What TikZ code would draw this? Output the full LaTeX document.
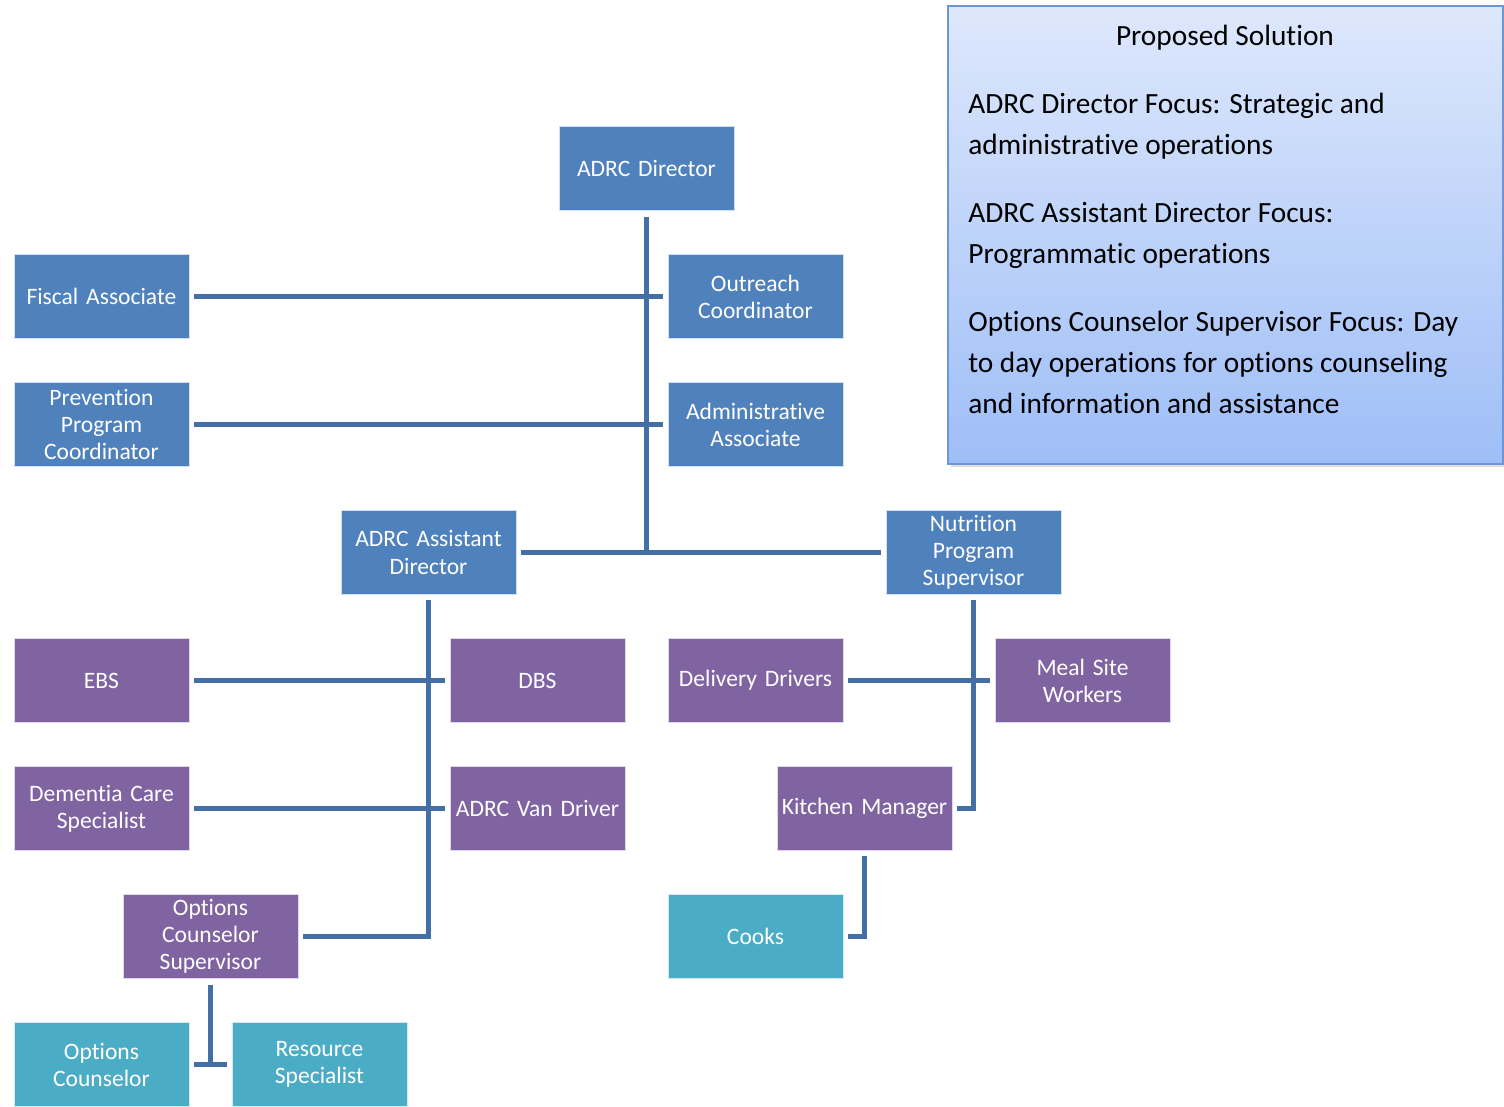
\documentclass[tikz,border=0pt]{standalone}
\usepackage{fontspec}
\setmainfont[Ligatures=NoCommon]{Carlito}
\usetikzlibrary{shadows}

\definecolor{adrcblue}{RGB}{79,129,189}
\definecolor{adrcpurple}{RGB}{128,100,162}
\definecolor{adrcteal}{RGB}{75,172,198}
\definecolor{linkblue}{RGB}{68,110,166}
\definecolor{paneltop}{RGB}{222,232,252}
\definecolor{panelbot}{RGB}{158,190,247}
\definecolor{panelline}{RGB}{110,150,215}

\begin{document}
\begin{tikzpicture}[
  x=0.02cm, y=-0.02cm,
  font=\fontsize{13.4}{15.4}\selectfont,
  box/.style={rectangle, fill=#1, draw=white!75!#1, line width=0.4pt, text=white,
              minimum width=3.5cm, minimum height=1.68cm, text width=3.4cm,
              align=center, inner sep=1pt},
  link/.style={draw=linkblue, line width=2.3pt},
  gap/.style={shorten <=0.1cm, shorten >=0.1cm},
  panel/.style={rectangle, draw=panelline, line width=0.8pt, top color=paneltop,
                bottom color=panelbot, minimum width=11.1cm, minimum height=9.16cm,
                drop shadow={opacity=0.25, shadow xshift=0.06cm, shadow yshift=-0.06cm}},
  paneltext/.style={font=\fontsize{16.7}{23.3}\selectfont, inner sep=0pt, align=left},
]
\useasboundingbox (0,0) rectangle (1504,1106);

% ================= NODES (pixel grid) =================
\node[box=adrcblue]   (dir)      at (646.5,168.5) {ADRC Director};
\node[box=adrcblue]   (fiscal)   at (101.5,296.5) {Fiscal Associate};
\node[box=adrcblue]   (outreach) at (755.5,296.5) {Outreach\\Coordinator};
\node[box=adrcblue]   (prevent)  at (101.5,424.5) {Prevention\\Program\\Coordinator};
\node[box=adrcblue]   (admin)    at (755.5,424.5) {Administrative\\Associate};
\node[box=adrcblue]   (asst)     at (428.5,552.5) {ADRC Assistant\\Director};
\node[box=adrcblue]   (nutr)     at (973.5,552.5) {Nutrition\\Program\\Supervisor};

\node[box=adrcpurple] (ebs)      at (101.5,680.5) {EBS};
\node[box=adrcpurple] (dbs)      at (537.5,680.5) {DBS};
\node[box=adrcpurple] (drivers)  at (755.5,680.5) {Delivery Drivers};
\node[box=adrcpurple] (meal)     at (1082.5,680.5) {Meal Site\\Workers};
\node[box=adrcpurple] (dementia) at (101.5,808.5) {Dementia Care\\Specialist};
\node[box=adrcpurple] (van)      at (537.5,808.5) {ADRC Van Driver};
\node[box=adrcpurple] (kitchen)  at (864.5,808.5) {Kitchen Manager};
\node[box=adrcpurple] (ocs)      at (210.5,936.5) {Options\\Counselor\\Supervisor};

\node[box=adrcteal]   (cooks)    at (755.5,936.5) {Cooks};
\node[box=adrcteal]   (oc)       at (101.5,1064.5) {Options\\Counselor};
\node[box=adrcteal]   (rs)       at (319.5,1064.5) {Resource\\Specialist};

% focus panel
\node[panel] (panel) at (1225.5,235) {};
\node[paneltext, anchor=north] (title) at (1225,25) {Proposed Solution};
\node[paneltext, anchor=north west] (focus) at (968,93) {%
  ADRC Director Focus: Strategic and\\
  administrative operations\\[0.54cm]
  ADRC Assistant Director Focus:\\
  Programmatic operations\\[0.54cm]
  Options Counselor Supervisor Focus: Day\\
  to day operations for options counseling\\
  and information and assistance};

% ================= EDGES =================
\draw[link, shorten <=0.12cm] (dir) -- (dir |- asst);
\draw[link, gap] (fiscal) -- (outreach);
\draw[link, gap] (prevent) -- (admin);
\draw[link, gap] (asst) -- (nutr);

\draw[link, gap] (asst) |- (ocs);
\draw[link, gap] (ebs) -- (dbs);
\draw[link, gap] (dementia) -- (van);
\draw[link, shorten <=0.12cm] (ocs) -- (ocs |- oc);
\draw[link, gap] (oc) -- (rs);

\draw[link, gap] (nutr) |- (kitchen);
\draw[link, gap] (drivers) -- (meal);
\draw[link, gap] (kitchen) |- (cooks);

\end{tikzpicture}
\end{document}
